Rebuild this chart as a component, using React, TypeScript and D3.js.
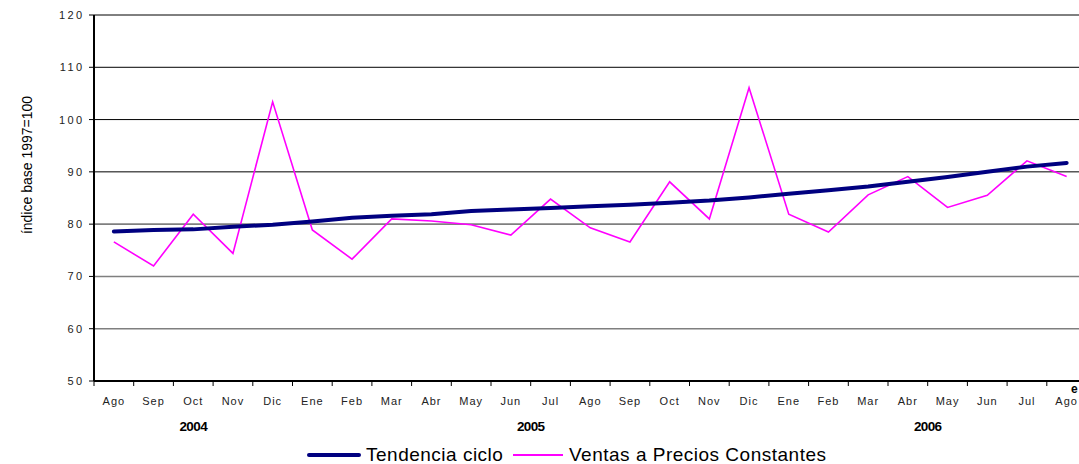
import React from 'react';
import * as d3 from 'd3';

// Monthly sales index vs trend-cycle, Aug 2004 - Aug 2006.

const months = ['Ago', 'Sep', 'Oct', 'Nov', 'Dic', 'Ene', 'Feb', 'Mar', 'Abr', 'May', 'Jun', 'Jul',
  'Ago', 'Sep', 'Oct', 'Nov', 'Dic', 'Ene', 'Feb', 'Mar', 'Abr', 'May', 'Jun', 'Jul', 'Ago'];

const tendencia = [78.6, 78.9, 79.0, 79.5, 79.9, 80.5, 81.2, 81.6, 81.9, 82.5, 82.8, 83.1,
  83.4, 83.7, 84.1, 84.5, 85.1, 85.8, 86.5, 87.2, 88.1, 89.0, 90.0, 91.0, 91.7];

const ventas = [76.6, 72.0, 81.9, 74.4, 103.4, 78.9, 73.3, 81.0, 80.6, 79.9, 77.9, 84.8,
  79.3, 76.6, 88.1, 81.0, 106.1, 81.9, 78.5, 85.6, 89.1, 83.2, 85.5, 92.1, 89.1];

const yTicks = [50, 60, 70, 80, 90, 100, 110, 120];
const years = ['2004', '2005', '2006'];
const yearAt = [2, 10.5, 20.5];

const W = 1079;
const H = 464;
const LEFT = 94;
const TOP = 15;
const BOTTOM = 381;
const STEP = 39.7;

export default function App() {
  const idx = months.map((_, i) => i);
  const x = d3.scaleBand<number>().domain(idx).range([LEFT, LEFT + STEP * months.length]);
  const y = d3.scaleLinear().domain([50, 120]).range([BOTTOM, TOP]);
  const cx = (i: number) => (x(Math.floor(i)) as number) + x.bandwidth() / 2 + (i % 1) * STEP;

  const line = d3.line<number>().x((_, i) => cx(i)).y(d => y(d));

  const font = 'Arial, "Liberation Sans", sans-serif';

  return (
    <svg width={W} height={H} style={{ position: 'absolute', left: 0, top: 0, overflow: 'hidden' }}
      fontFamily={font}>
      <rect width={W} height={H} fill="#fff" />
      {yTicks.filter(t => t > 50 && t < 120).map(t => (
        <line key={t} x1={LEFT} x2={W} y1={y(t)} y2={y(t)}
          stroke={t >= 90 ? '#000' : '#7f7f7f'} strokeWidth={t >= 90 ? 1 : 1.6} />
      ))}
      <line x1={LEFT} x2={W} y1={TOP} y2={TOP} stroke="#000" strokeWidth={1} />
      {yTicks.map(t => (
        <g key={t}>
          <line x1={LEFT - 5} x2={LEFT} y1={y(t)} y2={y(t)} stroke="#000" />
          <text x={84.5} y={y(t) + 4} textAnchor="end" fontSize={11} fill="#222" letterSpacing={2.4}>{t}</text>
        </g>
      ))}
      {d3.range(months.length + 1).map(i => (
        <line key={i} x1={LEFT + i * STEP} x2={LEFT + i * STEP} y1={BOTTOM} y2={BOTTOM + 5} stroke="#000" />
      ))}
      {months.map((m, i) => (
        <text key={i} x={cx(i)} y={405} textAnchor="middle" fontSize={11} fill="#222" letterSpacing={1}>{m}</text>
      ))}
      {years.map((yr, i) => (
        <text key={yr} x={cx(yearAt[i])} y={431} textAnchor="middle" fontSize={13.5} fontWeight="bold"
          letterSpacing={-0.6} fill="#000">{yr}</text>
      ))}
      <text x={1071} y={393} fontSize={12} fontWeight="bold" fill="#000">e</text>
      <text transform={`translate(32,165) rotate(-90)`} textAnchor="middle"
        fontSize={14} fill="#000">índice base 1997=100</text>

      <path d={line(ventas) || ''} fill="none" stroke="#ff00ff" strokeWidth={1.6} />
      <path d={line(tendencia) || ''} fill="none" stroke="#000080" strokeWidth={4} strokeLinecap="round" />

      <line x1={LEFT} x2={LEFT} y1={TOP} y2={BOTTOM} stroke="#000" strokeWidth={2} />
      <line x1={LEFT} x2={W} y1={BOTTOM} y2={BOTTOM} stroke="#000" strokeWidth={2} />

      <line x1={309} x2={359} y1={455} y2={455} stroke="#000080" strokeWidth={4} strokeLinecap="round" />
      <text x={366} y={461} fontSize={19} fill="#000" letterSpacing={0.5}>Tendencia ciclo</text>
      <line x1={513} x2={563} y1={455} y2={455} stroke="#ff00ff" strokeWidth={2} />
      <text x={569} y={461} fontSize={19} fill="#000" letterSpacing={0.5}>Ventas a Precios Constantes</text>
    </svg>
  );
}
